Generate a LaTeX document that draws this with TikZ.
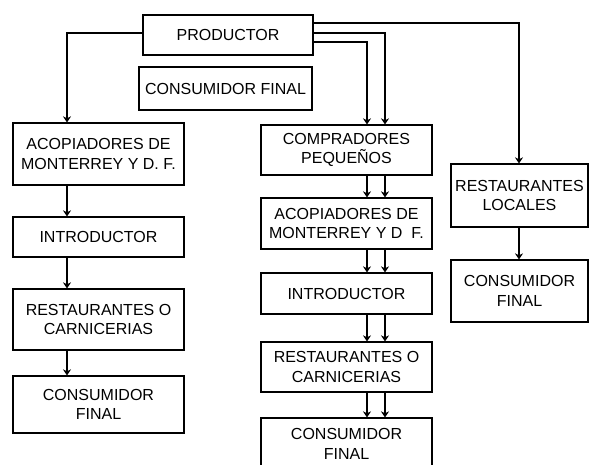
\documentclass[tikz,border=0pt]{standalone}
\usepackage{fontspec}
\setmainfont{Liberation Sans}
\usetikzlibrary{arrows.meta}
\begin{document}
\begin{tikzpicture}[x=1pt,y=-1pt,
  box/.style={draw,line width=1.2pt,inner sep=0pt,align=center,
    font=\fontsize{16}{19.5}\selectfont},
  arr/.style={line width=1.2pt,-{Stealth[length=6pt,width=8pt]}},
  ln/.style={line width=1.2pt}]
\useasboundingbox (0,0) rectangle (589,464);
\newcommand{\bx}[6]{\node[box,minimum width={#4-#2},minimum height={#5-#3}] (#1) at ({(#2+#4)/2},{(#3+#5)/2}) {#6};}
\bx{prod}{143}{15}{313}{55}{PRODUCTOR}
\bx{cftop}{139}{67}{312}{110}{CONSUMIDOR FINAL}
% left column
\bx{lacop}{13}{123}{184}{185}{ACOPIADORES DE\\MONTERREY Y D. F.}
\bx{lintr}{13}{217}{184}{257}{INTRODUCTOR}
\bx{lrest}{13}{289}{184}{350}{RESTAURANTES O\\CARNICERIAS}
\bx{lcons}{13}{376}{184}{433}{CONSUMIDOR\\FINAL}
% middle column
\bx{mcomp}{261}{125}{432}{175}{COMPRADORES\\PEQUEÑOS}
\bx{macop}{261}{198}{432}{249}{ACOPIADORES DE\\MONTERREY Y D\ \ F.}
\bx{mintr}{261}{273}{432}{314}{INTRODUCTOR}
\bx{mrest}{261}{342}{432}{392}{RESTAURANTES O\\CARNICERIAS}
\bx{mcons}{261}{418}{432}{470}{CONSUMIDOR\\FINAL}
% right column
\bx{rrest}{451}{164}{588}{227}{RESTAURANTES\\LOCALES}
\bx{rcons}{451}{260}{588}{322}{CONSUMIDOR\\FINAL}
% connectors from PRODUCTOR
\coordinate (pl) at (prod.west |- 0,33);
\coordinate (pr1) at (prod.east |- 0,23);
\coordinate (pr2) at (prod.east |- 0,33);
\coordinate (pr3) at (prod.east |- 0,42);
\draw[arr] (pl) -| (lacop.north -| 67,0);
\draw[arr] (pr1) -| (rrest.north -| 519,0);
\draw[arr] (pr2) -| (mcomp.north -| 385,0);
\draw[arr] (pr3) -| (mcomp.north -| 367,0);
% left column
\draw[arr] (lacop.south -| 67,0) -- (lintr.north -| 67,0);
\draw[arr] (lintr.south -| 67,0) -- (lrest.north -| 67,0);
\draw[arr] (lrest.south -| 67,0) -- (lcons.north -| 67,0);
% middle column
\foreach \a/\b in {mcomp/macop,macop/mintr,mintr/mrest,mrest/mcons}{
  \draw[arr] (\a.south -| 367,0) -- (\b.north -| 367,0);
  \draw[arr] (\a.south -| 385,0) -- (\b.north -| 385,0);
}
% right column
\draw[arr] (rrest.south -| 519,0) -- (rcons.north -| 519,0);
\end{tikzpicture}
\end{document}
